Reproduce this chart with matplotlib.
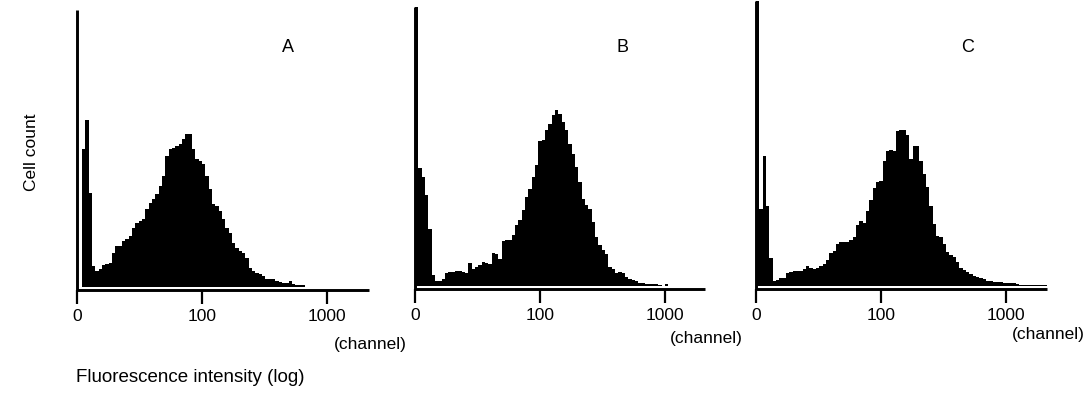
import numpy as np
import matplotlib
matplotlib.use("Agg")
import matplotlib.pyplot as plt

plt.rcParams["font.family"] = ["Liberation Sans", "DejaVu Sans"]

# bin width in decades of the log amplifier, histogram start (decades from "0")
BIN = 1 / 37.5
starts = [0.04, 0.0, 0.0]
labels = ["A", "B", "C"]
tick_pos = [0, 1, 2]
tick_labels = ["0", "100", "1000"]

counts_a = [138, 167, 94, 21, 16, 18, 22, 23, 24, 34, 41, 41, 46, 48, 51, 59, 64,
            66, 68, 78, 84, 88, 93, 101, 111, 131, 138, 139, 141, 143, 148, 153,
            153, 138, 128, 126, 123, 111, 98, 83, 81, 76, 68, 59, 54, 44, 39, 36,
            34, 29, 19, 16, 14, 13, 11, 8, 8, 8, 6, 5, 4, 4, 6, 3, 2, 2, 2]

counts_b = [400, 118, 109, 91, 57, 11, 5, 5, 7, 13, 14, 14, 15, 15, 14, 13, 23,
            17, 19, 21, 24, 23, 22, 33, 32, 27, 45, 46, 46, 51, 61, 66, 76, 89,
            97, 109, 121, 145, 146, 156, 162, 171, 176, 172, 164, 156, 142, 132,
            119, 104, 87, 81, 77, 64, 49, 41, 36, 32, 19, 17, 13, 14, 13, 9, 7,
            6, 5, 3, 3, 2, 2, 2, 2, 1, 0, 2]

counts_c = [400, 77, 130, 80, 28, 5, 6, 8, 8, 13, 14, 15, 15, 15, 17, 20, 18, 17,
            18, 20, 22, 26, 33, 35, 42, 44, 44, 44, 46, 49, 61, 65, 63, 75, 86,
            98, 104, 105, 125, 135, 136, 135, 155, 156, 156, 151, 127, 140, 140,
            125, 112, 99, 80, 62, 50, 49, 42, 34, 31, 29, 24, 18, 16, 14, 12, 10,
            9, 8, 7, 5, 5, 4, 4, 4, 3, 3, 3, 3, 2, 1, 1, 1, 1, 1, 1, 1, 1, 1]

W, H = 1089, 405
fig = plt.figure(figsize=(W / 100, H / 100), dpi=100)

# panel frames in pixels: left spine x, right end x, axis line y, spine top y
frames = [(77, 369, 290, 10), (415, 705, 289, 7), (756, 1047, 289, 1)]
letter_x = [288, 623, 968]
channel_y = [344, 338, 334]
GAP = 2.8

for counts, start, label, (x0, x1, yb, yt), lx, cy in zip(
        [counts_a, counts_b, counts_c], starts, labels, frames, letter_x, channel_y):
    ax = fig.add_axes([x0 / W, 1 - yb / H, (x1 - x0) / W, (yb - yt) / H])
    edges = start + BIN * np.arange(len(counts) + 1)
    ax.stairs(counts, edges, fill=True, color="black", linewidth=0)
    ax.set_xlim(0, (x1 - x0) / 125)
    ax.set_ylim(-GAP, (yb - yt) - GAP)
    for s in ["top", "right"]:
        ax.spines[s].set_visible(False)
    for s in ["left", "bottom"]:
        ax.spines[s].set_linewidth(2.1)
        ax.spines[s].set_capstyle("butt")
    ax.set_yticks([])
    ax.set_xticks(tick_pos)
    ax.set_xticklabels(tick_labels)
    ax.tick_params(axis="x", length=10, width=1.6, pad=4, labelsize=12.5)
    fig.text(lx / W, 1 - 48 / H, label, fontsize=13, ha="center", va="center")
    fig.text((x1 + 1) / W, 1 - cy / H, "(channel)", fontsize=12.5,
             ha="center", va="center")

fig.text(32 / W, 1 - 152 / H, "Cell count", rotation=90, fontsize=12.5,
         ha="center", va="center")
fig.text(76 / W, 1 - 378 / H, "Fluorescence intensity (log)", fontsize=13.5,
         ha="left", va="center")

fig.savefig("out.png", dpi=100)
